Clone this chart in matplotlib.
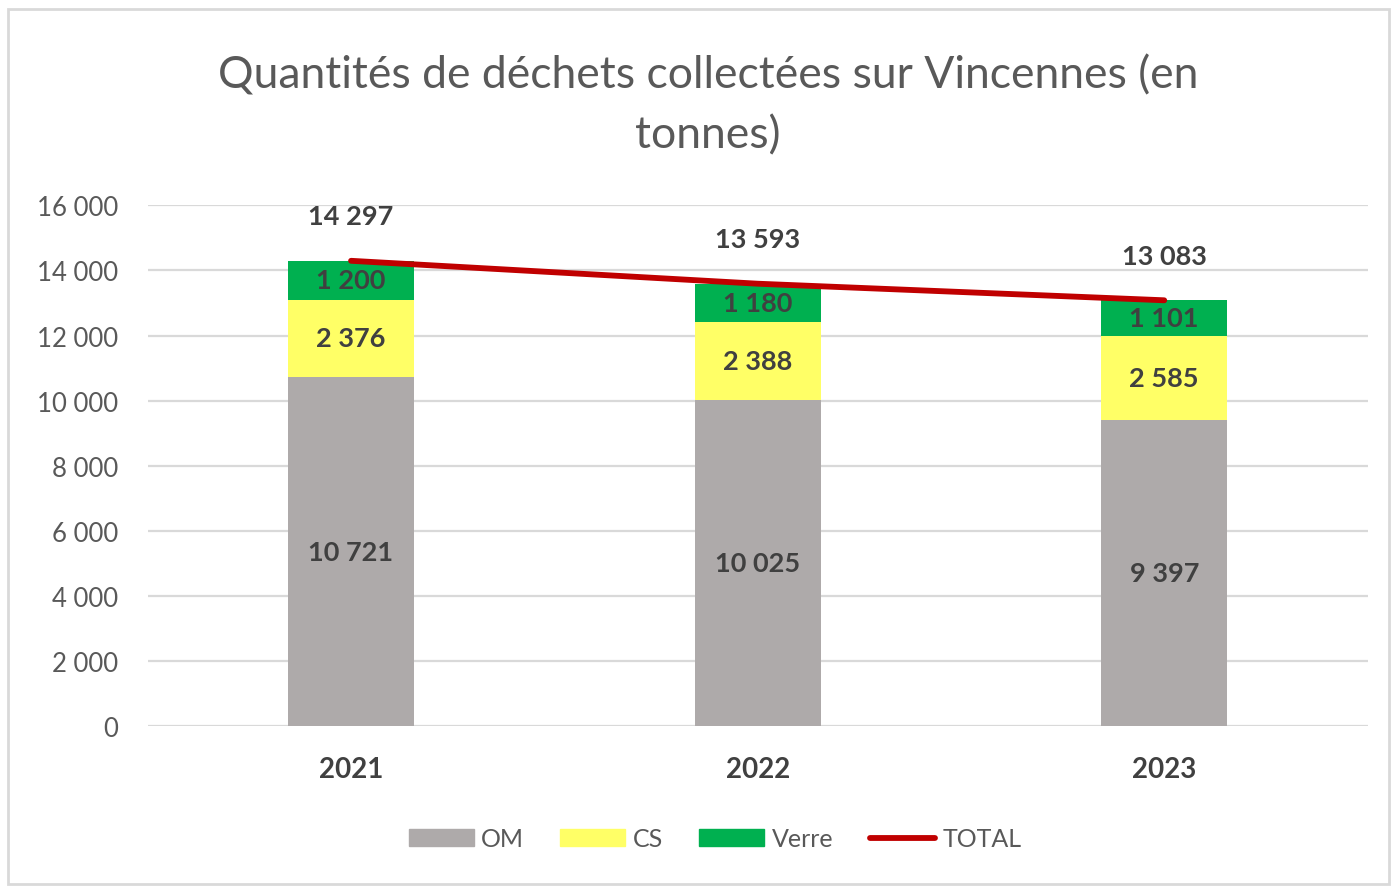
import matplotlib
matplotlib.use('Agg')
import matplotlib.pyplot as plt
import matplotlib.patches as patches
from matplotlib.lines import Line2D

plt.rcParams['font.family'] = ['Lato', 'DejaVu Sans']

years = ['2021', '2022', '2023']
om = [10721, 10025, 9397]
cs = [2376, 2388, 2585]
verre = [1200, 1180, 1101]
total = [14297, 13593, 13083]
yticks = [0, 2000, 4000, 6000, 8000, 10000, 12000, 14000, 16000]

GREY = '#aeaaaa'
YELLOW = '#ffff66'
GREEN = '#00b050'
RED = '#c00000'
TXT = '#595959'
LBL = '#404040'


def fmt(v):
    return '{:,}'.format(v).replace(',', ' ')


fig = plt.figure(figsize=(13.94, 8.87), dpi=100)
ax = fig.add_axes([0.106, 0.1805, 0.875, 0.5868])

x = list(range(len(years)))
w = 0.31
ax.bar(x, om, w, color=GREY, zorder=2)
ax.bar(x, cs, w, bottom=om, color=YELLOW, zorder=2)
bot2 = [a + b for a, b in zip(om, cs)]
ax.bar(x, verre, w, bottom=bot2, color=GREEN, zorder=2)
ax.plot(x, total, color=RED, lw=4.2, solid_capstyle='round', zorder=3)

# segment labels
for i in x:
    ax.text(i, om[i] / 2, fmt(om[i]), ha='center', va='center', fontsize=19.5,
            fontweight='bold', color=LBL, zorder=4)
    ax.text(i, om[i] + cs[i] / 2, fmt(cs[i]), ha='center', va='center', fontsize=19.5,
            fontweight='bold', color=LBL, zorder=4)
    ax.text(i, bot2[i] + verre[i] / 2, fmt(verre[i]), ha='center', va='center', fontsize=19.5,
            fontweight='bold', color=LBL, zorder=4)
    ax.annotate(fmt(total[i]), (i, total[i]), xytext=(0, 32), textcoords='offset points',
                ha='center', va='center', fontsize=19.5, fontweight='bold', color=LBL, zorder=4)

ax.set_xlim(-0.5, 2.5)
ax.set_ylim(0, 16000)
ax.set_yticks(yticks)
ax.set_yticklabels([fmt(v) for v in yticks], fontsize=18.5, color=TXT)
ax.set_xticks(x)
ax.set_xticklabels(years, fontsize=20, fontweight='bold', color=LBL)
ax.tick_params(axis='both', length=0)
ax.tick_params(axis='y', pad=21)
ax.tick_params(axis='x', pad=22)
ax.grid(axis='y', color='#d9d9d9', lw=1.6, zorder=0)
for s in ax.spines.values():
    s.set_visible(False)

fig.text(0.508, 0.8805, 'Quantités de déchets collectées sur Vincennes (en\ntonnes)',
         ha='center', va='center', fontsize=32, color=TXT, linespacing=1.55)

handles = [patches.Patch(color=GREY, label='OM'),
           patches.Patch(color=YELLOW, label='CS'),
           patches.Patch(color=GREEN, label='Verre'),
           Line2D([], [], color=RED, lw=4.2, solid_capstyle='round', label='TOTAL')]
leg = fig.legend(handles=handles, loc='center', bbox_to_anchor=(0.513, 0.053), ncol=4,
                 frameon=False, fontsize=18, handlelength=2.6, handleheight=0.64,
                 columnspacing=1.45, handletextpad=0.3)
for t in leg.get_texts():
    t.set_color(TXT)

fig.patches.append(patches.Rectangle((8 / 1394, 0.002), 1381 / 1394, 1 - 10 / 887 - 0.002,
                                     transform=fig.transFigure, fill=False,
                                     edgecolor='#d9d9d9', lw=2))

fig.savefig('out.png', dpi=100)
